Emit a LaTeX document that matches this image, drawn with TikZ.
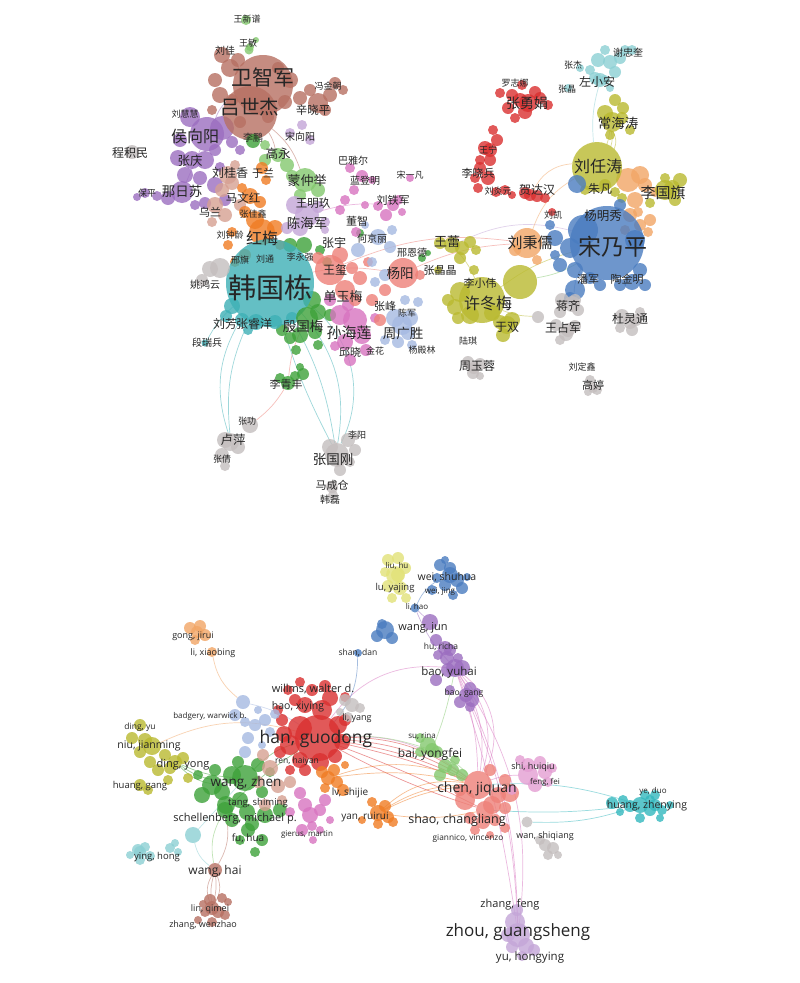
\documentclass[tikz,border=0pt]{standalone}
\usepackage{fontspec}
\setmainfont{Open Sans}
\newfontfamily\cjk{Noto Sans CJK SC}
\usepackage{tikz}
\usetikzlibrary{backgrounds}
\usepackage{xcolor}

\definecolor{vBrown}{RGB}{183,112,98}
\definecolor{vPurple}{RGB}{156,110,192}
\definecolor{vCyan}{RGB}{62,176,182}
\definecolor{vBlue}{RGB}{74,124,192}
\definecolor{vOlive}{RGB}{186,186,48}
\definecolor{vRed}{RGB}{218,48,48}
\definecolor{vLCyan}{RGB}{140,208,212}
\definecolor{vLOrange}{RGB}{242,166,102}
\definecolor{vSalmon}{RGB}{238,128,120}
\definecolor{vPink}{RGB}{216,116,192}
\definecolor{vGreen}{RGB}{62,162,58}
\definecolor{vLGreen}{RGB}{132,200,110}
\definecolor{vLPurple}{RGB}{196,166,216}
\definecolor{vOrange}{RGB}{240,124,36}
\definecolor{vLBrown}{RGB}{214,160,146}
\definecolor{vLBlue}{RGB}{166,186,226}
\definecolor{vGray}{RGB}{196,190,190}
\definecolor{vLYellow}{RGB}{226,226,120}
\definecolor{vTeal}{RGB}{52,184,190}

\begin{document}
\begin{tikzpicture}[
    x=1pt, y=-1pt,
    bub/.style 2 args={circle, fill=#1, fill opacity=.8, draw=none,
                       inner sep=0pt, minimum size=#2},
    cn/.style={font=\cjk\fontsize{#1}{#1}\selectfont, text=black!85, inner sep=0pt},
    en/.style={font=\fontsize{#1}{#1}\selectfont, text=black!85, inner sep=0pt},
    edge/.style={draw=#1, draw opacity=.5, line width=.7pt},
]

% ── Top network: small bubbles ───────────────────────────────
\foreach \x/\y/\r in {222/55/8,230/68/9,215/80/7,220/95/8,238/60/7,232/100/6,240/122/6,
    300/98/7,330/95/7,335/83/6,343/90/5,310/90/6,285/102/7,268/117/6,325/110/6,278/68/6,
    290/80/8,212/110/5}
    \fill[vBrown, fill opacity=.8] (\x,\y) circle (\r pt);
\foreach \x/\y/\r in {190/117/10,222/128/12,180/140/7,232/142/6,178/158/8,205/160/9,
    215/150/6,185/175/8,200/178/7,215/185/8,168/198/7,157/196/5,145/193/5,137/197/4,
    205/203/6,225/200/6,195/205/5,220/167/5,240/150/5}
    \fill[vPurple, fill opacity=.8] (\x,\y) circle (\r pt);
\foreach \x/\y/\r in {265/160/6,287/165/7,292/176/6,318/190/7,300/195/6,250/47/4,
    256/40/3,265/145/5}
    \fill[vLGreen, fill opacity=.8] (\x,\y) circle (\r pt);
\foreach \x/\y/\r in {290/245/7,304/245/8,320/250/5,327/262/5,312/300/9,318/312/8,
    300/335/8,315/332/7,290/338/6,318/345/5,330/315/6,282/330/6,296/350/5,360/233/4,
    422/258/4,428/253/3,295/376/5,303/374/6,300/367/4,280/378/5}
    \fill[vGreen, fill opacity=.8] (\x,\y) circle (\r pt);
\foreach \x/\y/\r in {232/183/7,222/190/7,215/205/8,225/215/7,240/205/6,212/222/5,235/165/5}
    \fill[vLBrown, fill opacity=.8] (\x,\y) circle (\r pt);
\foreach \x/\y/\r in {262/168/6,266/180/5,242/188/5,260/202/6,245/212/6,255/220/9,
    275/228/8,232/232/5,228/245/5,245/255/6,235/262/5,280/245/5}
    \fill[vOrange, fill opacity=.8] (\x,\y) circle (\r pt);
\foreach \x/\y/\r in {295/205/9,318/207/6,300/228/8,287/228/6,325/222/5,290/133/5,
    310/140/5,302/125/5,325/230/4}
    \fill[vLPurple, fill opacity=.8] (\x,\y) circle (\r pt);
\foreach \x/\y/\r in {340/210/5,354/190/5,362/176/6,372/180/4,350/168/5,378/206/5,
    386/215/6,398/200/5,410/178/4,402/212/4,356/232/5,345/200/5,365/205/4,340/315/10,
    362/335/9,345/342/8,366/350/6,350/360/6,335/346/5,330/300/6,348/305/6,375/318/5}
    \fill[vPink, fill opacity=.8] (\x,\y) circle (\r pt);
\foreach \x/\y/\r in {345/290/10,340/255/8,355/300/6,360/278/7,372/300/6,385/290/6,
    368/262/5,380/320/6,318/258/6,352/268/6,420/275/5}
    \fill[vSalmon, fill opacity=.8] (\x,\y) circle (\r pt);
\foreach \x/\y/\r in {395/318/9,410/318/8,408/333/7,398/342/6,412/345/5,385/340/5,
    358/250/7,378/237/8,390/247/6,372/262/5,385/275/6,375/282/5,418/302/5,405/300/5,
    392/230/5,365/225/4}
    \fill[vLBlue, fill opacity=.8] (\x,\y) circle (\r pt);
\foreach \x/\y/\r in {232/306/8,242/320/7,256/322/8,275/322/7,292/318/6,226/316/6,248/330/5}
    \fill[vCyan, fill opacity=.8] (\x,\y) circle (\r pt);
\foreach \x/\y/\r in {440/243/6,462/248/7,470/242/6,476/250/5,460/258/6,438/270/4,
    460/292/10,455/307/8,470/315/9,492/313/8,500/322/7,512/320/8,503/335/7,474/270/5,
    458/318/6,448/300/6,605/113/8,622/118/6,630/130/5,610/135/5,623/108/6,615/100/6,
    672/188/8,680/180/7,665/178/5,650/203/5,675/200/6,605/185/6,615/192/5,622/198/5,585/190/5}
    \fill[vOlive, fill opacity=.8] (\x,\y) circle (\r pt);
\foreach \x/\y/\r in {500/93/5,512/95/6,508/108/6,520/100/7,540/98/6,548/105/5,525/112/7,
    515/118/5,535/92/6,522/85/5,497/140/6,485/148/7,480/160/5,490/160/6,480/168/6,
    475/178/5,488/178/7,478/188/5,496/192/5,505/190/5,512/195/4,525/193/6,537/196/6,
    545/198/5,552/212/4,493/130/5}
    \fill[vRed, fill opacity=.8] (\x,\y) circle (\r pt);
\foreach \x/\y/\r in {595/78/6,605/80/5,590/70/5,598/60/7,610/62/7,620/58/6,615/72/6,
    625/50/5,632/50/5,580/68/4,568/88/4,610/88/4,605/50/5}
    \fill[vLCyan, fill opacity=.8] (\x,\y) circle (\r pt);
\foreach \x/\y/\r in {515/250/6,537/260/5,628/180/12,640/175/9,645/185/7,635/200/8,
    630/215/7,640/225/6,648/232/5,625/230/5,638/212/5,650/220/6,655/192/5}
    \fill[vLOrange, fill opacity=.8] (\x,\y) circle (\r pt);
\foreach \x/\y/\r in {583/230/15,570/248/10,555/238/8,560/265/7,575/270/8,590/278/6,
    600/285/6,620/285/6,632/282/8,645/285/6,640/270/7,575/290/10,570/298/6,555/255/5,
    620/205/6,635/240/10,550/225/5}
    \fill[vBlue, fill opacity=.8] (\x,\y) circle (\r pt);
\foreach \x/\y/\r in {562/300/7,575/300/6,578/310/6,560/312/6,556/325/6,566/334/7,
    575/326/6,560/340/5,622/316/7,636/320/6,632/330/6,620/328/5,640/312/5,468/362/6,
    480/364/6,473/373/6,480/376/4,590/380/5,597/390/5,588/392/4,348/440/7,355/450/6,
    340/470/6,350/462/5,330/447/8,225/440/8,238/447/7,222/455/7,225/466/5,333/495/5,
    356/437/3,210/269/8,202/280/6}
    \fill[vGray, fill opacity=.8] (\x,\y) circle (\r pt);

% ── Top network: main bubbles ────────────────────────────────
\node[bub={vBrown}{60pt}] (wzj) at (263,85) {};
\node[bub={vBrown}{54pt}] (lsj) at (250,113) {};
\node[bub={vBrown}{20pt}] (xxp) at (318,103) {};
\node[bub={vLGreen}{10pt}] (wxp) at (246,20) {};
\node[bub={vLGreen}{9pt}] (wm) at (249,50) {};
\node[bub={vPurple}{34pt}] (hxy) at (207,134) {};
\node[bub={vPurple}{18pt}] (zq) at (192,160) {};
\node[bub={vPurple}{22pt}] (nrs) at (182,192) {};
\node[bub={vGray}{14pt}] (cjm) at (132,152) {};
\node[bub={vGreen}{14pt}] (lpeng) at (253,141) {};
\node[bub={vLGreen}{14pt}] (gy) at (278,155) {};
\node[bub={vLGreen}{24pt}] (mzj) at (305,180) {};
\node[bub={vLBrown}{18pt}] (lgx) at (228,175) {};
\node[bub={vOrange}{16pt}] (mwh) at (250,196) {};
\node[bub={vOrange}{26pt}] (hm) at (262,232) {};
\node[bub={vLPurple}{24pt}] (chj) at (307,215) {};
\node[bub={vCyan}{88pt}] (hgd) at (270,283) {};
\node[bub={vGray}{20pt}] (yhy) at (220,268) {};
\node[bub={vGreen}{22pt}] (ygm) at (307,318) {};
\node[bub={vGreen}{14pt}] (lqf) at (288,383) {};
\node[bub={vSalmon}{30pt}] (wx) at (330,270) {};
\node[bub={vSalmon}{30pt}] (yy) at (403,273) {};
\node[bub={vPink}{24pt}] (shl) at (355,320) {};
\node[bub={vPink}{12pt}] (ltj) at (393,205) {};
\node[bub={vLBlue}{20pt}] (zgs) at (402,325) {};
\node[bub={vOlive}{16pt}] (wl) at (452,245) {};
\node[bub={vOlive}{46pt}] (xdm) at (482,300) {};
\node[bub={vOlive}{34pt}] (lxw) at (520,282) {};
\node[bub={vOlive}{18pt}] (ys) at (507,325) {};
\node[bub={vLOrange}{30pt}] (lbr) at (527,243) {};
\node[bub={vRed}{18pt}] (zyj) at (528,103) {};
\node[bub={vRed}{14pt}] (wn) at (490,150) {};
\node[bub={vRed}{12pt}] (hdh) at (530,195) {};
\node[bub={vLCyan}{14pt}] (zxa) at (600,80) {};
\node[bub={vOlive}{20pt}] (cht) at (612,122) {};
\node[bub={vOlive}{50pt}] (lrt) at (597,167) {};
\node[bub={vOlive}{20pt}] (lgq) at (665,190) {};
\node[bub={vBlue}{18pt}] (zf) at (577,184) {};
\node[bub={vBlue}{74pt}] (snp) at (607,243) {};
\node[bub={vGray}{16pt}] (jq) at (572,304) {};
\node[bub={vGray}{12pt}] (gx) at (538,317) {};
\node[bub={vGray}{14pt}] (wzjun) at (568,330) {};
\node[bub={vGray}{14pt}] (dlt) at (630,322) {};
\node[bub={vGray}{12pt}] (zyr) at (474,368) {};
\node[bub={vGray}{10pt}] (gt) at (593,388) {};
\node[bub={vGray}{24pt}] (zgg) at (337,455) {};
\node[bub={vGray}{18pt}] (lp) at (230,442) {};
\node[bub={vGray}{16pt}] (zgong) at (250,425) {};
\node[bub={vGray}{12pt}] (mcc) at (332,487) {};
\node[bub={vCyan}{7pt}] (drb) at (205,343) {};

% ── Top network: links ───────────────────────────────────────
\begin{scope}[on background layer]
\fill[white] (0,0) rectangle (800,983);
\draw[edge=vCyan] (hgd) to[bend left=10] (zgg);
\draw[edge=vCyan] (hgd) to[bend left=25] (zgg);
\draw[edge=vCyan] (hgd) to[bend left=40] (zgg);
\draw[edge=vCyan] (hgd) to[bend right=5] (zgg);
\draw[edge=vCyan] (hgd) to[bend right=25] (lp);
\draw[edge=vCyan] (hgd) to[bend right=15] (lp);
\draw[edge=vCyan] (hgd) to[bend right=10] (drb);
\draw[edge=vSalmon] (lqf) to[bend left=10] (zgong);
\draw[edge=vSalmon] (ygm) to[bend right=10] (lqf);
\draw[edge=vSalmon] (hgd) to[bend left=10] (yy);
\draw[edge=vSalmon] (yy) to[bend left=10] (lbr);
\draw[edge=vSalmon] (wx) to[bend left=15] (lbr);
\draw[edge=vLPurple] (wl) to[bend left=20] (snp);
\draw[edge=vLCyan] (lrt) to[bend left=10] (zxa);
\foreach \b in {5,15,25} \draw[edge=vOlive] (lrt) to[bend right=\b] (cht);
\draw[edge=vLOrange] (hdh) to[bend left=30] (lrt);
\draw[edge=vLOrange] (lbr) to[bend left=20] (lrt);
\draw[edge=vOlive] (snp) to[bend right=10] (xdm);
\draw[edge=vLGreen] (snp) to[bend left=10] (lxw);
\draw[edge=vBlue] (snp) to[bend right=15] (jq);
\draw[edge=vOlive] (xdm) to[bend right=10] (gx);
\draw[edge=vOlive] (wl) to[bend left=10] (xdm);
\draw[edge=vPurple] (wzj) to[bend right=20] (hxy);
\draw[edge=vBrown] (lsj) to[bend left=10] (gy);
\draw[edge=vBrown] (lsj) to[bend left=15] (mzj);
\draw[edge=vPink] (chj) to[bend left=10] (ltj);
\draw[edge=vPurple] (hxy) to (nrs);
\draw[edge=vGreen] (hgd) to (ygm);
\end{scope}

% ── Top network: labels ──────────────────────────────────────
\node[cn=9] (t1) at (247,19) {王新谱};
\node[cn=9] (t2) at (248,43) {王敏};
\node[cn=10] (t3) at (225,51) {刘佳};
\node[cn=21] (t4) at (263,77) {卫智军};
\node[cn=9] (t5) at (328,86) {冯金朝};
\node[cn=19.5] (t6) at (250,107) {吕世杰};
\node[cn=11.5] (t7) at (313,110) {辛晓平};
\node[cn=9] (t8) at (185,114) {刘慧慧};
\node[cn=16] (t9) at (195,136) {侯向阳};
\node[cn=10] (t10) at (253,138) {李鹏};
\node[cn=10] (t11) at (300,137) {宋向阳};
\node[cn=12] (t12) at (130,153) {程积民};
\node[cn=12.5] (t13) at (278,154) {高永};
\node[cn=12.5] (t14) at (190,161) {张庆};
\node[cn=12] (t15) at (230,173) {刘桂香};
\node[cn=11] (t16) at (263,173) {于兰};
\node[cn=13] (t17) at (307,181) {蒙仲举};
\node[cn=10] (t18) at (353,161) {巴雅尔};
\node[cn=10] (t19) at (365,181) {蓝登明};
\node[cn=9] (t20) at (410,175) {宋一凡};
\node[cn=13.5] (t21) at (182,191) {那日苏};
\node[cn=9] (t22) at (147,193) {保平};
\node[cn=11.5] (t23) at (243,198) {马文红};
\node[cn=11] (t24) at (210,212) {乌兰};
\node[cn=9] (t25) at (253,214) {张佳鑫};
\node[cn=11.5] (t26) at (313,203) {王明玖};
\node[cn=11] (t27) at (393,200) {刘铁军};
\node[cn=13.5] (t28) at (307,223) {陈海军};
\node[cn=11] (t29) at (357,221) {董智};
\node[cn=9] (t30) at (230,235) {刘钟龄};
\node[cn=16] (t31) at (262,238) {红梅};
\node[cn=12] (t32) at (334,243) {张宇};
\node[cn=10] (t33) at (372,239) {何京丽};
\node[cn=9] (t34) at (300,257) {李永强};
\node[cn=9] (t35) at (240,260) {邢旗};
\node[cn=9] (t36) at (265,259) {刘通};
\node[cn=12] (t37) at (335,270) {王玺};
\node[cn=10] (t38) at (412,253) {邢恩德};
\node[cn=13] (t39) at (447,242) {王蕾};
\node[cn=11] (t40) at (440,270) {张晶晶};
\node[cn=13.5] (t41) at (400,273) {杨阳};
\node[cn=28] (t42) at (270,288) {韩国栋};
\node[cn=10] (t43) at (205,285) {姚鸿云};
\node[cn=13] (t44) at (343,297) {单玉梅};
\node[cn=11] (t45) at (385,306) {张峰};
\node[cn=9] (t46) at (407,313) {陈军};
\node[cn=12] (t47) at (225,324) {刘芳};
\node[cn=12] (t48) at (254,324) {张睿洋};
\node[cn=13.5] (t49) at (303,326) {殷国梅};
\node[cn=15] (t50) at (349,333) {孙海莲};
\node[cn=13.5] (t51) at (403,333) {周广胜};
\node[cn=10] (t52) at (207,343) {段瑞兵};
\node[cn=11] (t53) at (350,352) {邱晓};
\node[cn=9] (t54) at (375,351) {金花};
\node[cn=9] (t55) at (422,350) {杨殿林};
\node[cn=9] (t56) at (488,150) {王宁};
\node[cn=11] (t57) at (478,173) {李晓兵};
\node[cn=9] (t58) at (498,191) {刘炎元};
\node[cn=12] (t59) at (537,190) {贺达汉};
\node[cn=9] (t60) at (515,83) {罗志娜};
\node[cn=14] (t61) at (527,103) {张勇娟};
\node[cn=10] (t62) at (628,53) {谢忠奎};
\node[cn=9] (t63) at (573,65) {张杰};
\node[cn=12] (t64) at (597,82) {左小安};
\node[cn=9] (t65) at (567,89) {张晶};
\node[cn=13.5] (t66) at (618,123) {常海涛};
\node[cn=16] (t67) at (598,166) {刘任涛};
\node[cn=12] (t68) at (600,189) {朱凡};
\node[cn=15] (t69) at (663,193) {李国旗};
\node[cn=12.5] (t70) at (603,216) {杨明秀};
\node[cn=9] (t71) at (553,215) {刘凯};
\node[cn=15] (t72) at (530,243) {刘秉儒};
\node[cn=23] (t73) at (613,247) {宋乃平};
\node[cn=11] (t74) at (480,283) {李小伟};
\node[cn=16] (t75) at (488,303) {许冬梅};
\node[cn=11] (t76) at (588,279) {潘军};
\node[cn=11] (t77) at (627,279) {陶金明};
\node[cn=12] (t78) at (568,306) {蒋齐};
\node[cn=12] (t79) at (630,319) {杜灵通};
\node[cn=12] (t80) at (563,328) {王占军};
\node[cn=12] (t81) at (507,327) {于双};
\node[cn=9] (t82) at (468,341) {陆琪};
\node[cn=12] (t83) at (477,366) {周玉蓉};
\node[cn=9] (t84) at (582,367) {刘定鑫};
\node[cn=11] (t85) at (593,385) {高婷};
\node[cn=11] (t86) at (286,384) {李青丰};
\node[cn=9] (t87) at (247,421) {张功};
\node[cn=9] (t88) at (357,435) {李阳};
\node[cn=12.5] (t89) at (233,440) {卢萍};
\node[cn=9] (t90) at (222,459) {张倩};
\node[cn=13.5] (t91) at (333,460) {张国刚};
\node[cn=11] (t92) at (332,485) {马成仓};
\node[cn=10] (t93) at (330,500) {韩磊};

% ── Bottom network: small bubbles ────────────────────────────
\foreach \x/\y/\r in {300/728/12,290/745/10,284/734/8,300/760/8,320/762/9,335/756/7,
    342/742/8,338/725/9,322/710/10,330/698/8,312/690/6,295/700/6,345/720/6,282/720/6,
    280/752/6,290/770/5,278/710/5,288/690/5,300/682/5,325/686/6,345/697/5,305/770/6}
    \fill[vRed, fill opacity=.8] (\x,\y) circle (\r pt);
\foreach \x/\y/\r in {385/630/9,377/636/6,392/638/6,382/624/5,440/565/6,450/568/6,
    457/580/7,445/585/6,462/588/6,453/595/5,467/577/4,437/578/5,432/590/5,445/560/4}
    \fill[vBlue, fill opacity=.8] (\x,\y) circle (\r pt);
\foreach \x/\y/\r in {388/560/6,398/558/6,405/568/6,398/575/7,388/586/6,400/588/7,
    406/598/5,392/598/5,385/572/5}
    \fill[vLYellow, fill opacity=.8] (\x,\y) circle (\r pt);
\foreach \x/\y/\r in {235/715/6,245/722/5,255/725/6,248/738/6,258/710/4,265/720/6,
    270/732/5,275/714/5,245/752/6,262/745/4}
    \fill[vLBlue, fill opacity=.8] (\x,\y) circle (\r pt);
\foreach \x/\y/\r in {190/628/6,200/626/6,205/635/6,195/640/5}
    \fill[vLOrange, fill opacity=.8] (\x,\y) circle (\r pt);
\foreach \x/\y/\r in {140/725/6,132/738/6,145/740/7,140/752/6,150/762/6,165/755/6,
    170/768/6,158/770/6,183/758/6,168/780/5,140/785/6,148/790/5,188/778/5}
    \fill[vOlive, fill opacity=.8] (\x,\y) circle (\r pt);
\foreach \x/\y/\r in {232/775/9,212/785/10,222/792/8,202/795/8,226/805/9,240/800/8,
    258/765/7,238/762/6,215/770/6,262/792/6,247/812/8,232/820/7,252/824/7,265/815/8,
    280/810/7,262/840/6,198/775/5,270/772/5,240/840/5,255/852/5}
    \fill[vGreen, fill opacity=.8] (\x,\y) circle (\r pt);
\foreach \x/\y/\r in {278/786/7,258/782/6,265/805/6,282/800/5,290/782/6,263/755/6}
    \fill[vLBrown, fill opacity=.8] (\x,\y) circle (\r pt);
\foreach \x/\y/\r in {300/793/6,305/805/7,320/810/6,325/800/6,312/826/5,302/830/6,
    320/830/4,313/840/4,290/812/5,330/820/4}
    \fill[vPink, fill opacity=.8] (\x,\y) circle (\r pt);
\foreach \x/\y/\r in {345/700/6,360/708/5,348/717/5,340/712/4,553/848/6,548/855/5,
    558/855/4,540/840/5}
    \fill[vGray, fill opacity=.8] (\x,\y) circle (\r pt);
\foreach \x/\y/\r in {322/772/6,334/770/6,337/782/6,325/788/5,343/790/6,345/765/4,
    385/806/6,388/817/6,378/824/5,393/822/5,362/820/4,372/802/5}
    \fill[vOrange, fill opacity=.8] (\x,\y) circle (\r pt);
\foreach \x/\y/\r in {428/745/8,437/752/6,420/752/5,445/766/7,453/770/6,440/775/6,
    455/760/5,462/775/6}
    \fill[vLGreen, fill opacity=.8] (\x,\y) circle (\r pt);
\foreach \x/\y/\r in {436/640/6,450/650/6,447/658/7,462/668/8,448/670/7,436/680/6,
    470/688/6,472/700/7,460/702/6,470/707/5,477/692/4,450/690/5,438/655/5,458/658/5}
    \fill[vPurple, fill opacity=.8] (\x,\y) circle (\r pt);
\foreach \x/\y/\r in {465/800/10,492/805/9,498/795/8,505/808/6,470/818/6,483/822/7,
    495/820/6,505/780/6,510/793/9,490/770/6,460/790/6,475/830/5,490/835/4,505/828/5}
    \fill[vSalmon, fill opacity=.8] (\x,\y) circle (\r pt);
\foreach \x/\y/\r in {528/765/7,540/762/6,545/772/7,552/768/5,535/785/7,548/782/5,
    512/790/5,520/760/5}
    \fill[vPink!70, fill opacity=.8] (\x,\y) circle (\r pt);
\foreach \x/\y/\r in {612/803/6,623/800/5,630/806/6,650/810/6,655/805/6,662/810/5,
    650/800/5,655/795/5,640/818/5,620/812/4,660/818/4,645/795/5,670/805/4}
    \fill[vTeal, fill opacity=.8] (\x,\y) circle (\r pt);
\foreach \x/\y/\r in {515/922/10,508/935/7,526/946/8,534/950/6,512/947/6,522/956/5,517/910/6}
    \fill[vLPurple, fill opacity=.8] (\x,\y) circle (\r pt);
\foreach \x/\y/\r in {210/900/6,222/898/5,218/912/6,205/912/5,198/920/4,212/922/5,
    225/915/5,228/902/4,203/904/4}
    \fill[vBrown, fill opacity=.8] (\x,\y) circle (\r pt);
\foreach \x/\y/\r in {138/850/6,145/847/5,150/856/5,140/860/5,170/848/5,175/843/4,
    178/852/4,130/855/4}
    \fill[vLCyan, fill opacity=.8] (\x,\y) circle (\r pt);

% ── Bottom network: main bubbles ─────────────────────────────
\node[bub={vRed}{46pt}] (hanGd) at (318,738) {};
\node[bub={vRed}{16pt}] (haoX) at (305,705) {};
\node[bub={vBlue}{8pt}] (shanD) at (358,653) {};
\node[bub={vLBlue}{14pt}] (badW) at (243,702) {};
\node[bub={vLOrange}{10pt}] (lxb) at (212,652) {};
\node[bub={vLOrange}{12pt}] (gongJ) at (197,632) {};
\node[bub={vOlive}{18pt}] (nJm) at (152,746) {};
\node[bub={vOlive}{14pt}] (dYong) at (175,762) {};
\node[bub={vGreen}{26pt}] (wZhen) at (245,778) {};
\node[bub={vGreen}{16pt}] (sch) at (225,810) {};
\node[bub={vGreen}{14pt}] (fuH) at (248,830) {};
\node[bub={vLCyan}{12pt}] (yHong) at (140,852) {};
\node[bub={vLCyan}{16pt}] (lcy) at (193,835) {};
\node[bub={vBrown}{14pt}] (wHai) at (215,870) {};
\node[bub={vBrown}{14pt}] (lQm) at (212,908) {};
\node[bub={vLBrown}{16pt}] (renH) at (270,768) {};
\node[bub={vPink}{16pt}] (gierM) at (310,815) {};
\node[bub={vGray}{14pt}] (liY) at (352,705) {};
\node[bub={vOrange}{14pt}] (lvS) at (328,778) {};
\node[bub={vOrange}{16pt}] (yanR) at (378,813) {};
\node[bub={vLGreen}{14pt}] (baiY) at (432,750) {};
\node[bub={vLGreen}{10pt}] (suR) at (420,738) {};
\node[bub={vPurple}{16pt}] (wJun) at (430,622) {};
\node[bub={vPurple}{14pt}] (huR) at (445,648) {};
\node[bub={vPurple}{18pt}] (baoY) at (455,668) {};
\node[bub={vPurple}{14pt}] (baoG) at (466,695) {};
\node[bub={vBlue}{9pt}] (liH) at (415,608) {};
\node[bub={vBlue}{16pt}] (weiS) at (450,575) {};
\node[bub={vLYellow}{18pt}] (luY) at (395,575) {};
\node[bub={vSalmon}{28pt}] (cJq) at (478,785) {};
\node[bub={vSalmon}{18pt}] (shaoC) at (485,810) {};
\node[bub={vPink!70}{20pt}] (shiH) at (528,775) {};
\node[bub={vGray}{12pt}] (wanS) at (545,845) {};
\node[bub={vGray}{11pt}] (gy2) at (527,822) {};
\node[bub={vTeal}{16pt}] (hZy) at (640,805) {};
\node[bub={vLPurple}{24pt}] (zGs) at (518,935) {};

% ── Bottom network: links ────────────────────────────────────
\begin{scope}[on background layer]
\foreach \b in {4,8,13,18} \draw[edge=vRed] (hanGd) to[bend left=\b] (cJq);
\draw[edge=vRed] (hanGd) to[bend right=5] (shaoC);
\draw[edge=vRed] (hanGd) to[bend left=3] (shaoC);
\draw[edge=vOrange] (lvS) to[bend left=10] (cJq);
\draw[edge=vOrange] (lvS) to[bend left=20] (cJq);
\foreach \b in {10,15,25} \draw[edge=vOrange] (yanR) to[bend left=\b] (cJq);
\draw[edge=vOrange] (yanR) to[bend right=10] (shaoC);
\draw[edge=vPink] (hanGd) to[bend left=30] (baoY);
\draw[edge=vPink] (hanGd) to[bend left=20] (cJq);
\foreach \b in {10,20,30,40} \draw[edge=vPink] (baoY) to[bend left=\b] (cJq);
\foreach \b in {5,12,20} \draw[edge=vPink] (baoY) to[bend left=\b] (zGs);
\draw[edge=vPink] (baoG) to[bend left=10] (zGs);
\draw[edge=vPurple] (wJun) to (liH);
\draw[edge=vPurple] (liH) to[bend right=10] (baoY);
\draw[edge=vBlue] (liH) to[bend left=20] (weiS);
\draw[edge=vBlue] (hanGd) to[bend right=20] (shanD);
\draw[edge=vLBlue] (hanGd) to[bend right=10] (badW);
\draw[edge=vLOrange] (badW) to[bend left=20] (lxb);
\draw[edge=vGreen] (hanGd) to[bend right=15] (wZhen);
\draw[edge=vGreen] (hanGd) to[bend right=5] (sch);
\foreach \b in {10,20,30} \draw[edge=vGreen] (dYong) to[bend right=\b] (wZhen);
\draw[edge=vLOrange] (nJm) to[bend left=20] (hanGd);
\draw[edge=vTeal] (cJq) to[bend left=10] (hZy);
\draw[edge=vTeal] (shaoC) to[bend right=5] (hZy);
\draw[edge=vTeal] (gy2) to[bend right=10] (hZy);
\draw[edge=vPink] (cJq) to[bend left=10] (shiH);
\draw[edge=vLGreen] (baiY) to[bend right=10] (hanGd);
\draw[edge=vLGreen] (baiY) to[bend left=10] (cJq);
\draw[edge=vLGreen] (baoY) to[bend left=5] (baiY);
\foreach \b in {10,25} {
    \draw[edge=vBrown] (wHai) to[bend left=\b] (lQm);
    \draw[edge=vBrown] (wHai) to[bend right=\b] (lQm);
}
\draw[edge=vLGreen] (sch) to[bend right=20] (wHai);
\draw[edge=vBrown] (sch) to[bend left=20] (wHai);
\draw[edge=vLCyan] (lcy) to[bend right=20] (wHai);
\draw[edge=vLCyan] (wZhen) to (lcy);
\end{scope}

% ── Bottom network: labels ───────────────────────────────────
\node[en=8] (b1) at (397,566) {liu, hu};
\node[en=9.5] (b2) at (395,588) {lu, yajing};
\node[en=10.5] (b3) at (447,577) {wei, shuhua};
\node[en=8] (b4) at (440,592) {wei, jing};
\node[en=8] (b5) at (417,607) {li, hao};
\node[en=9] (b6) at (193,636) {gong, jirui};
\node[en=11] (b7) at (423,628) {wang, jun};
\node[en=9] (b8) at (213,653) {li, xiaobing};
\node[en=8.5] (b9) at (358,653) {shan, dan};
\node[en=8.5] (b10) at (441,647) {hu, richa};
\node[en=11.5] (b11) at (449,673) {bao, yuhai};
\node[en=11] (b12) at (313,689) {willms, walter d.};
\node[en=8.5] (b13) at (464,693) {bao, gang};
\node[en=10.5] (b14) at (298,707) {hao, xiying};
\node[en=8] (b15) at (210,716) {badgery, warwick b.};
\node[en=9] (b16) at (357,718) {li, yang};
\node[en=8.5] (b17) at (140,727) {ding, yu};
\node[en=8] (b18) at (422,736) {su, rina};
\node[en=17.5] (b19) at (316,739) {han, guodong};
\node[en=10.5] (b20) at (149,746) {niu, jianming};
\node[en=12] (b21) at (430,754) {bai, yongfei};
\node[en=8.5] (b22) at (297,761) {ren, haiyan};
\node[en=11] (b23) at (183,765) {ding, yong};
\node[en=9] (b24) at (533,767) {shi, huiqiu};
\node[en=13.5] (b25) at (246,783) {wang, zhen};
\node[en=8] (b26) at (545,782) {feng, fei};
\node[en=9.5] (b27) at (140,786) {huang, gang};
\node[en=14] (b28) at (477,789) {chen, jiquan};
\node[en=8] (b29) at (653,791) {ye, duo};
\node[en=10] (b30) at (350,793) {lv, shijie};
\node[en=9.5] (b31) at (258,803) {tang, shiming};
\node[en=10.5] (b32) at (647,806) {huang, zhenying};
\node[en=10] (b33) at (365,817) {yan, ruirui};
\node[en=11] (b34) at (235,819) {schellenberg, michael p.};
\node[en=12.5] (b35) at (457,820) {shao, changliang};
\node[en=8] (b36) at (307,835) {gierus, martin};
\node[en=9] (b37) at (545,836) {wan, shiqiang};
\node[en=8.3] (b38) at (468,838) {giannico, vincenzo};
\node[en=10] (b39) at (248,838) {fu, hua};
\node[en=9.5] (b40) at (157,857) {ying, hong};
\node[en=12] (b41) at (215,871) {wang, hai};
\node[en=11] (b42) at (510,905) {zhang, feng};
\node[en=9] (b43) at (210,909) {lin, qimei};
\node[en=9] (b44) at (203,925) {zhang, wenzhao};
\node[en=17] (b45) at (518,932) {zhou, guangsheng};
\node[en=11.5] (b46) at (530,958) {yu, hongying};

\useasboundingbox (0,0) rectangle (800,983);
\end{tikzpicture}
\end{document}
